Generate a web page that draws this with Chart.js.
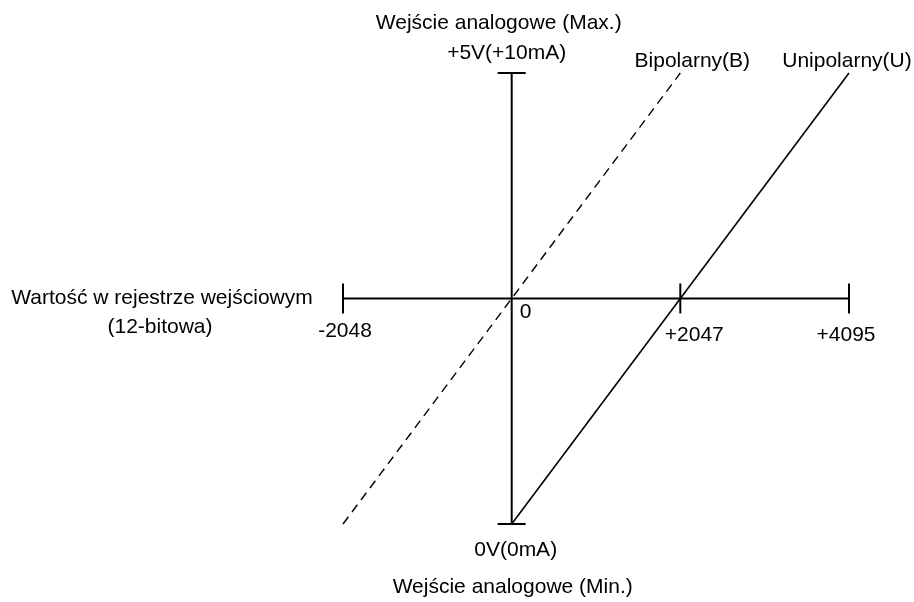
<!DOCTYPE html>
<html>
<head>
<meta charset="utf-8">
<script src="https://cdn.jsdelivr.net/npm/chart.js@4"></script>
<style>
  html, body { margin: 0; padding: 0; background: #fff; }
  canvas { display: block; }
</style>
</head>
<body>
<canvas id="chart" width="914" height="602"></canvas>
<script>
// register range (x) and input voltage range (y, volts)
const codeMin = -2048;
const codeMax = 4095;
const voltMin = 0;
const voltMax = 5;

// transfer lines
const unipolar = [{ x: 0, y: 0 }, { x: 4095, y: 5 }];
const bipolar = [{ x: -2048, y: 0 }, { x: 2047, y: 5 }];

// axes crossing at code 0 / mid voltage
const hAxis = [{ x: -2048, y: 2.5 }, { x: 4095, y: 2.5 }];
const vAxis = [{ x: 0, y: 0 }, { x: 0, y: 5 }];

// tick marks
const hTicks = [-2048, 2047, 4095];
const vTicks = [0, 5];

// tick labels on the register axis
const xTickValues = [-2048, 0, 2047, 4095];
const xTickLabels = ['-2048', '0', '+2047', '+4095'];

const FONT = "21px 'Liberation Sans', Arial, sans-serif";

const labelsPlugin = {
  id: 'diagramLabels',
  afterDraw(chart) {
    const ctx = chart.ctx;
    const xs = chart.scales.x;
    const ys = chart.scales.y;
    const x0 = xs.getPixelForValue(0);
    const yTop = ys.getPixelForValue(voltMax);
    const yBot = ys.getPixelForValue(voltMin);
    const yMid = ys.getPixelForValue(2.5);

    ctx.save();
    ctx.fillStyle = '#000';
    ctx.font = FONT;
    ctx.textAlign = 'center';
    ctx.textBaseline = 'alphabetic';

    // vertical axis titles
    ctx.fillText('Wejście analogowe (Max.)', x0 - 13, yTop - 44);
    ctx.fillText('+5V(+10mA)', x0 - 5, yTop - 14);
    ctx.fillText('0V(0mA)', x0 + 4, yBot + 32);
    ctx.fillText('Wejście analogowe (Min.)', x0 + 1, yBot + 69);

    // series names at the line ends
    ctx.fillText('Bipolarny(B)', xs.getPixelForValue(2047) + 12, yTop - 6);
    ctx.fillText('Unipolarny(U)', xs.getPixelForValue(4095) - 2, yTop - 6);

    // horizontal axis title
    ctx.fillText('Wartość w rejestrze wejściowym', 162, yMid + 5);
    ctx.fillText('(12-bitowa)', 160, yMid + 34);

    // register tick labels
    const offsets = [{ dx: 2, dy: 38 }, { dx: 14, dy: 19 }, { dx: 14, dy: 42 }, { dx: -3, dy: 42 }];
    xTickValues.forEach((v, i) => {
      ctx.fillText(xTickLabels[i], xs.getPixelForValue(v) + offsets[i].dx, yMid + offsets[i].dy);
    });
    ctx.restore();
  }
};

const ctx = document.getElementById('chart').getContext('2d');

new Chart(ctx, {
  type: 'line',
  data: {
    datasets: [
      {
        label: 'hAxis',
        data: hAxis,
        borderColor: '#000',
        borderWidth: 2,
        pointRadius: 0,
        clip: false
      },
      {
        label: 'vAxis',
        data: vAxis,
        borderColor: '#000',
        borderWidth: 2,
        pointRadius: 0,
        clip: false
      },
      {
        label: 'hTicks',
        data: hTicks.map(v => ({ x: v, y: 2.5 })),
        showLine: false,
        pointStyle: 'line',
        rotation: 90,
        pointRadius: 15,
        pointBorderColor: '#000',
        pointBorderWidth: 2,
        clip: false
      },
      {
        label: 'vTicks',
        data: vTicks.map(v => ({ x: 0, y: v })),
        showLine: false,
        pointStyle: 'line',
        rotation: 0,
        pointRadius: 14,
        pointBorderColor: '#000',
        pointBorderWidth: 2,
        clip: false
      },
      {
        label: 'Unipolarny(U)',
        data: unipolar,
        borderColor: '#000',
        borderWidth: 1.6,
        pointRadius: 0,
        clip: false
      },
      {
        label: 'Bipolarny(B)',
        data: bipolar,
        borderColor: '#000',
        borderWidth: 1.4,
        borderDash: [9, 6],
        pointRadius: 0,
        clip: false
      }
    ]
  },
  options: {
    responsive: false,
    animation: false,
    events: [],
    layout: {
      padding: { left: 343, right: 65, top: 73, bottom: 78 }
    },
    plugins: {
      legend: { display: false },
      title: { display: false },
      tooltip: { enabled: false }
    },
    scales: {
      x: { type: 'linear', min: codeMin, max: codeMax, display: false },
      y: { type: 'linear', min: voltMin, max: voltMax, display: false }
    }
  },
  plugins: [labelsPlugin]
});
</script>
</body>
</html>
